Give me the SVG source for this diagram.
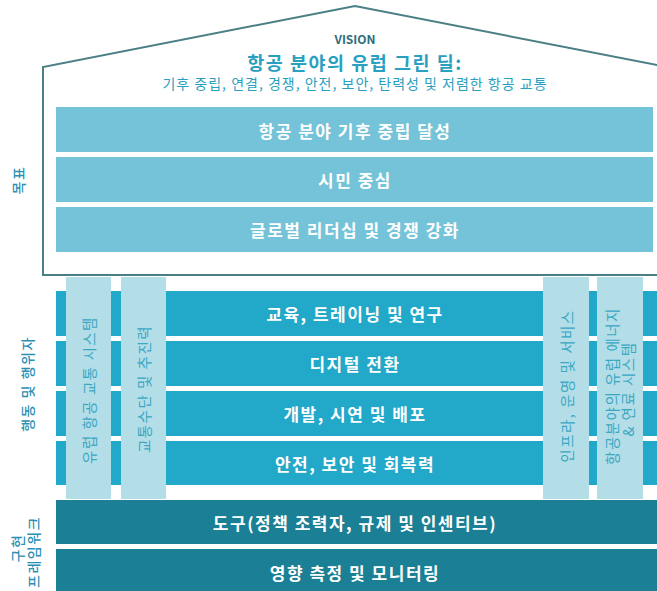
<svg xmlns="http://www.w3.org/2000/svg" width="657" height="591" viewBox="0 0 657 591">
<style>
text{font-family:"Noto Sans CJK KR","Noto Sans",sans-serif;text-anchor:middle;dominant-baseline:central}
.goal{fill:#74c3d8}
.act{fill:#22a8c8}
.pil{fill:#b3dde7}
.imp{fill:#1b8095}
.wt{fill:#ffffff;font-weight:700;font-size:17px;letter-spacing:1.5px}
.pt{fill:#3aa7c3;font-size:14.5px;letter-spacing:1.5px}
.side{fill:#2b8fb3;font-size:14px;font-weight:500;letter-spacing:1.5px}
</style>
<rect width="657" height="591" fill="#ffffff"/>
<g id="house">
<path d="M667,67 L355,6 L43,67 L43,275 L667,275" fill="none" stroke="#4a7f86" stroke-width="2"/>
</g>
<g id="vision">
<text x="355" y="38" font-size="12" font-weight="700" fill="#2f6d7c">VISION</text>
<text x="355" y="62" font-size="18.5" font-weight="700" letter-spacing="1.5" fill="#2aa0c0">항공 분야의 유럽 그린 딜:</text>
<text x="355" y="83" font-size="14" letter-spacing="1" fill="#2aa0c0">기후 중립, 연결, 경쟁, 안전, 보안, 탄력성 및 저렴한 항공 교통</text>
</g>
<g id="goal1"><rect class="goal" x="56" y="107" width="597" height="45"/><text class="wt" x="355" y="130">항공 분야 기후 중립 달성</text></g>
<g id="goal2"><rect class="goal" x="56" y="157" width="597" height="45"/><text class="wt" x="355" y="179.5">시민 중심</text></g>
<g id="goal3"><rect class="goal" x="56" y="207" width="597" height="45"/><text class="wt" x="355" y="229.5">글로벌 리더십 및 경쟁 강화</text></g>
<g id="action1"><rect class="act" x="56" y="291" width="601" height="45"/><text class="wt" x="355" y="313.5">교육, 트레이닝 및 연구</text></g>
<g id="action2"><rect class="act" x="56" y="341" width="601" height="45"/><text class="wt" x="355" y="363.5">디지털 전환</text></g>
<g id="action3"><rect class="act" x="56" y="391" width="601" height="45"/><text class="wt" x="355" y="413.5">개발, 시연 및 배포</text></g>
<g id="action4"><rect class="act" x="56" y="441" width="601" height="44"/><text class="wt" x="355" y="463">안전, 보안 및 회복력</text></g>
<g id="pillar1"><rect class="pil" x="66" y="277" width="45" height="222"/><text class="pt" transform="rotate(-90 88.5 390)" x="88.5" y="390">유럽 항공 교통 시스템</text></g>
<g id="pillar2"><rect class="pil" x="121" y="277" width="45" height="222"/><text class="pt" transform="rotate(-90 143.5 389)" x="143.5" y="389">교통수단 및 추진력</text></g>
<g id="pillar3"><rect class="pil" x="543" y="277" width="46" height="222"/><text class="pt" transform="rotate(-90 566 386)" x="566" y="386">인프라, 운영 및 서비스</text></g>
<g id="pillar4"><rect class="pil" x="597" y="277" width="46" height="222"/><text class="pt" transform="rotate(-90 611 386)" x="611" y="386">항공분야의 유럽 에너지</text><text class="pt" transform="rotate(-90 627 389)" x="627" y="389">&amp; 연료 시스템</text></g>
<g id="impl1"><rect class="imp" x="56" y="500" width="601" height="44"/><text class="wt" x="355" y="522">도구(정책 조력자, 규제 및 인센티브)</text></g>
<g id="impl2"><rect class="imp" x="56" y="549" width="601" height="42"/><text class="wt" x="355" y="572">영향 측정 및 모니터링</text></g>
<g id="labels">
<text class="side" transform="rotate(-90 18 180)" x="18" y="180">목표</text>
<text class="side" transform="rotate(-90 27 384)" x="27" y="384">행동 및 행위자</text>
<text class="side" transform="rotate(-90 17 548)" x="17" y="548">구현</text>
<text class="side" transform="rotate(-90 33 552)" x="33" y="552">프레임워크</text>
</g>
<g id="connectors"></g>
</svg>
